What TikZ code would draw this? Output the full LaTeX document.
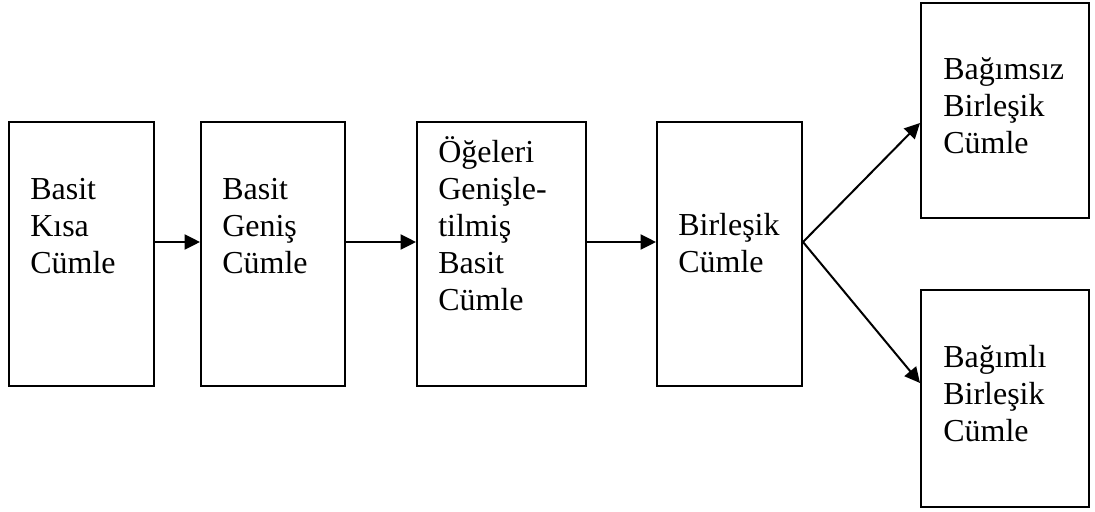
\documentclass[tikz,border=0pt]{standalone}
\usepackage{fontspec}
\setmainfont{Liberation Serif}
\usetikzlibrary{arrows.meta,fit}
\begin{document}
\begin{tikzpicture}[x=0.75pt,y=-0.75pt,
  box/.style={draw,line width=1.5pt,inner sep=0pt,rectangle},
  txt/.style={anchor=base west,inner sep=0pt,font=\fontsize{24pt}{27.75pt}\selectfont},
  link/.style={line width=1.5pt,-{Triangle[length=11.5pt,width=11.25pt]}}]
\useasboundingbox (0,0) rectangle (1095,511);
% boxes
\node[box,fit={(9,122) (154,386)}] (b1) {};
\node[box,fit={(201,122) (345,386)}] (b2) {};
\node[box,fit={(417,122) (586,386)}] (b3) {};
\node[box,fit={(657,122) (802,386)}] (b4) {};
\node[box,fit={(921,3) (1089,218)}] (b5) {};
\node[box,fit={(921,290) (1089,507)}] (b6) {};
% labels
\node[txt] (t1) at (30,199) {\begin{tabular}[t]{@{}l@{}}Basit\\Kısa\\Cümle\end{tabular}};
\node[txt] (t2) at (222,199) {\begin{tabular}[t]{@{}l@{}}Basit\\Geniş\\Cümle\end{tabular}};
\node[txt] (t3) at (438,162) {\begin{tabular}[t]{@{}l@{}}Öğeleri\\Genişle-\\tilmiş\\Basit\\Cümle\end{tabular}};
\node[txt] (t4) at (678,235) {\begin{tabular}[t]{@{}l@{}}Birleşik\\Cümle\end{tabular}};
\node[txt] (t5) at (943,79) {\begin{tabular}[t]{@{}l@{}}Bağımsız\\Birleşik\\Cümle\end{tabular}};
\node[txt] (t6) at (943,367) {\begin{tabular}[t]{@{}l@{}}Bağımlı\\Birleşik\\Cümle\end{tabular}};
% connector heights
\coordinate (row) at (0,242);
\coordinate (up) at (0,123);
\coordinate (down) at (0,383);
% connectors
\draw[link] (b1.east |- row) -- (b2.west |- row);
\draw[link] (b2.east |- row) -- (b3.west |- row);
\draw[link] (b3.east |- row) -- (b4.west |- row);
\draw[link] (b4.east |- row) -- (b5.west |- up);
\draw[link] (b4.east |- row) -- (b6.west |- down);
\end{tikzpicture}
\end{document}
